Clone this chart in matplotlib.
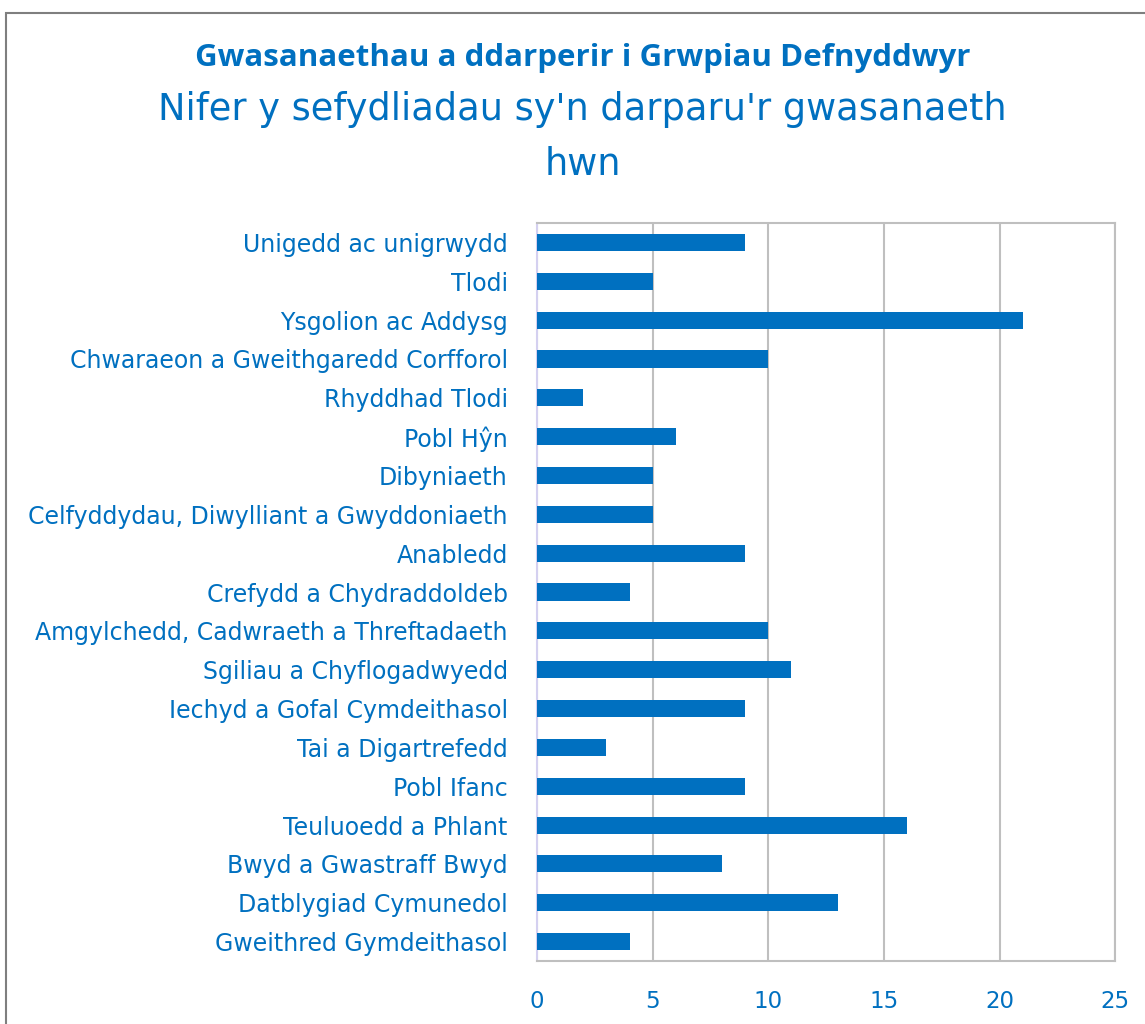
import matplotlib.pyplot as plt
from matplotlib.patches import Rectangle

categories = [
    "Unigedd ac unigrwydd",
    "Tlodi",
    "Ysgolion ac Addysg",
    "Chwaraeon a Gweithgaredd Corfforol",
    "Rhyddhad Tlodi",
    "Pobl H\u0177n",
    "Dibyniaeth",
    "Celfyddydau, Diwylliant a Gwyddoniaeth",
    "Anabledd",
    "Crefydd a Chydraddoldeb",
    "Amgylchedd, Cadwraeth a Threftadaeth",
    "Sgiliau a Chyflogadwyedd",
    "Iechyd a Gofal Cymdeithasol",
    "Tai a Digartrefedd",
    "Pobl Ifanc",
    "Teuluoedd a Phlant",
    "Bwyd a Gwastraff Bwyd",
    "Datblygiad Cymunedol",
    "Gweithred Gymdeithasol",
]
values = [9, 5, 21, 10, 2, 6, 5, 5, 9, 4, 10, 11, 9, 3, 9, 16, 8, 13, 4]
xticks = [0, 5, 10, 15, 20, 25]

blue = "#0070C0"
grid = "#BFBFBF"

plt.rcParams['font.family'] = ['DejaVu Sans']

fig = plt.figure(figsize=(11.45, 10.24), dpi=100)
ax = fig.add_axes([0.469, 0.0615, 0.505, 0.7207])

ypos = list(range(len(categories)))[::-1]
ax.barh(ypos, values, height=0.44, color=blue, zorder=3)

ax.set_xlim(0, 25)
ax.set_ylim(-0.5, len(categories) - 0.5)
ax.set_xticks(xticks)
ax.set_xticklabels([str(t) for t in xticks], fontsize=16.5, color=blue)
ax.set_yticks(ypos)
ax.set_yticklabels(categories, fontsize=17, color=blue)
ax.tick_params(axis='both', length=0)
ax.tick_params(axis='x', pad=21)
ax.tick_params(axis='y', pad=21)
ax.xaxis.grid(True, color=grid, linewidth=1.5, zorder=0)

for side in ['top', 'right', 'bottom']:
    ax.spines[side].set_color(grid)
    ax.spines[side].set_linewidth(1.5)
ax.spines['left'].set_color('#D4D0F0')
ax.spines['left'].set_linewidth(1.5)

fig.text(0.509, 0.943, "Gwasanaethau a ddarperir i Grwpiau Defnyddwyr",
         ha='center', va='center', fontsize=22.5, fontweight='bold', color=blue,
         family=['Open Sans', 'DejaVu Sans'])
fig.text(0.509, 0.893, "Nifer y sefydliadau sy'n darparu'r gwasanaeth",
         ha='center', va='center', fontsize=26.5, color=blue)
fig.text(0.509, 0.839, "hwn", ha='center', va='center', fontsize=26.5, color=blue)

fig.patches.append(Rectangle((0.005, -0.1), 1.2, 1.087,
                             transform=fig.transFigure, fill=False,
                             edgecolor='#7F7F7F', linewidth=1.5))

fig.savefig('out.png', dpi=100)
